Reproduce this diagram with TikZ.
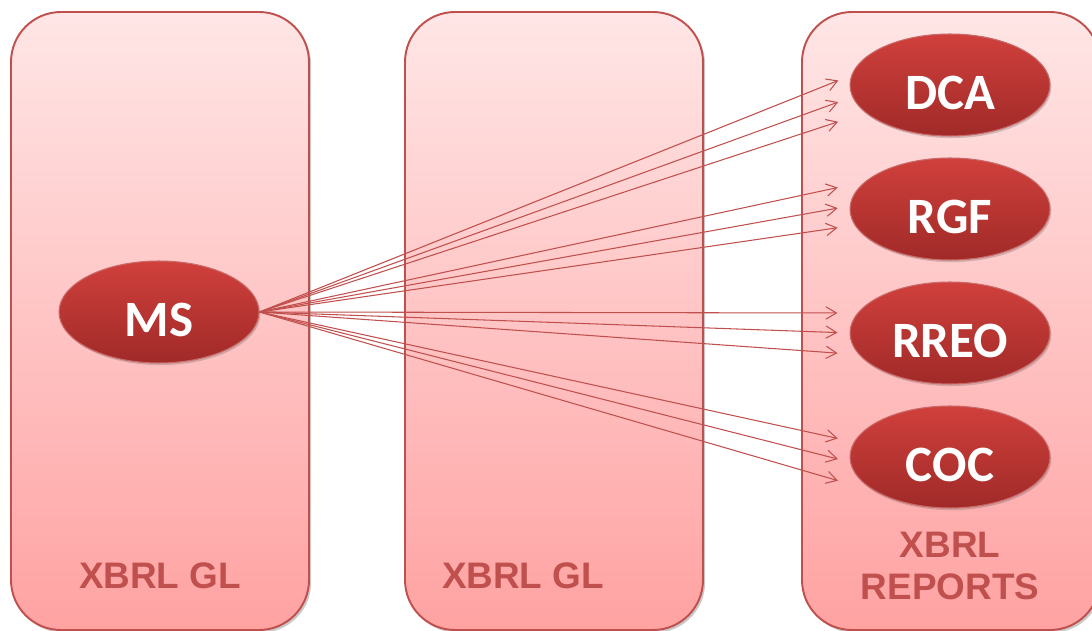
\documentclass[tikz,border=0pt]{standalone}
\usepackage{fontspec}
\newfontfamily\calibri{Carlito}
\newfontfamily\arial{Liberation Sans}
\usetikzlibrary{shapes.geometric,arrows.meta,shadows}

\definecolor{panelTop}{HTML}{FFE6E6}
\definecolor{panelBottom}{HTML}{FFA2A2}
\definecolor{panelLine}{HTML}{C0504D}
\definecolor{ovalTop}{HTML}{D0403C}
\definecolor{ovalBottom}{HTML}{A02A28}

\begin{document}
\begin{tikzpicture}[x=0.02cm,y=-0.02cm,
	panel/.style={draw=panelLine,line width=1.1pt,rounded corners=1cm,top color=panelTop,bottom color=panelBottom,
		drop shadow={fill=black!70,opacity=0.3,shadow xshift=1.2pt,shadow yshift=-1.5pt}},
	oval/.style={ellipse,draw=panelLine!85!white,line width=0.6pt,top color=ovalTop,bottom color=ovalBottom,
		minimum width=4cm,minimum height=2.04cm,text height=0.98cm,text depth=0pt,text=white,
		font=\calibri\bfseries\fontsize{29}{34}\selectfont,
		drop shadow={fill=black!70,opacity=0.25,shadow xshift=0.8pt,shadow yshift=-1.2pt}},
	caption/.style={text=panelLine,font=\arial\bfseries\fontsize{21}{24}\selectfont,align=center},
	link/.style={draw=panelLine,line width=0.6pt,-{Straight Barb[length=6pt,width=7pt]},shorten >=0.24cm}]
	\useasboundingbox (0,0) rectangle (1092,631);
	\clip (0,0) rectangle (1092,631);
	%Notation: {report name}, {offsets of the three arrows, in px}
	%NOTE! Everything is zero-based
	\def\ourReports{{"DCA","RGF","RREO","COC"}}
	\def\ourOffsets{{
			{-9,13,33},
			{-24,-3,17},
			{-20,0,21},
			{-16,5,27},
	}}
	\pgfmathsetmacro{\length}{3}% Zero based.
	
	% The three columns
	\foreach \xl in {11,405,802}{
		\path[panel] (\xl,12) rectangle ++(298,618);
	}
	\node[caption] (glLeft) at (160,576) {XBRL GL};
	\node[caption] (glMid) at (523,576) {XBRL GL};
	\node[caption] (repRight) at (950,566) {XBRL\\REPORTS};
	
	% Source
	\node[oval] (ms) at (159,312) {MS};
	
	% Loop through the array containing all reports.
	\foreach \i in {0, ..., \length}{
		\pgfmathsetmacro{\reportName}{\ourReports[\i]}% Get the report name
		\node[oval] (rep\i) at (950,85+124*\i) {\reportName};
		\foreach \j in {0,1,2}{
			\pgfmathsetmacro{\dy}{-0.02*\ourOffsets[\i][\j]}% Shift of the arrow end
			\draw[link] (ms.east) -- ([yshift=\dy cm]rep\i.west);
		}
	}
\end{tikzpicture}
\end{document}
